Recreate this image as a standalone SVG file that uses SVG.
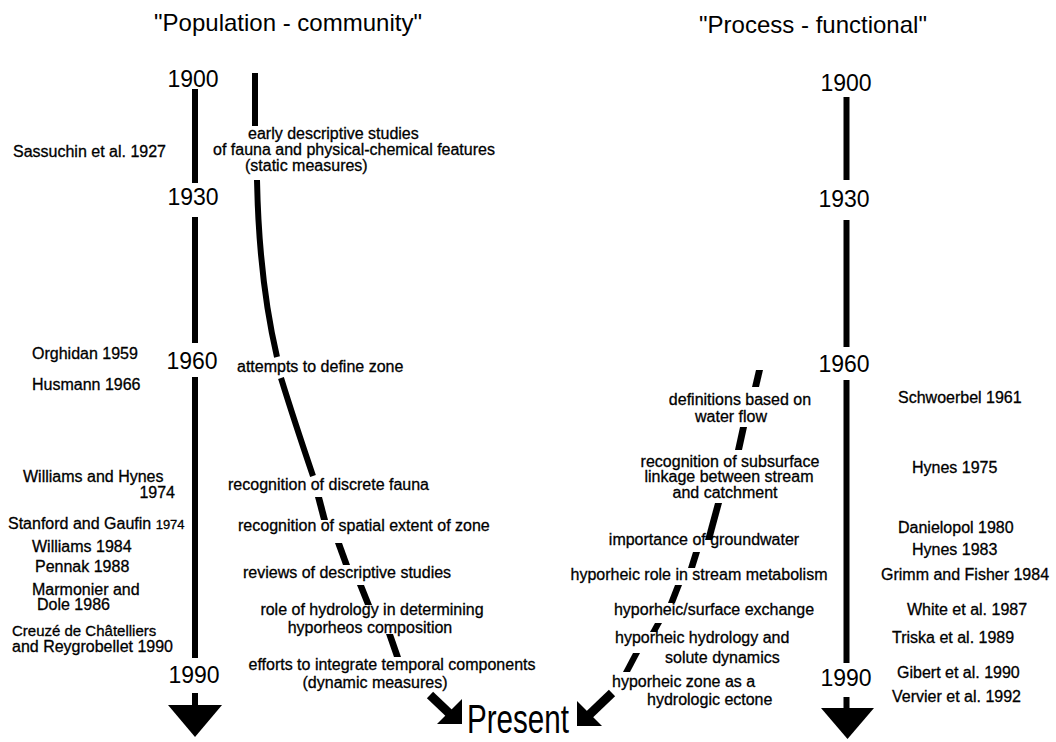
<svg xmlns="http://www.w3.org/2000/svg" width="1056" height="742" viewBox="0 0 1056 742">
<style>
text{font-family:"Liberation Sans",Arial,sans-serif;fill:#000}
.title{font-size:24px}
.year{font-size:23px}
.t{font-size:16px;stroke:#000;stroke-width:0.3}
.axis{stroke:#000;stroke-width:6;fill:none}
.curve{stroke:#000;stroke-width:6;fill:none}
.seg{fill:#000}
</style>
<rect width="1056" height="742" fill="#fff"/>
<g id="titles">
<text class="title" x="288" y="31" text-anchor="middle">"Population - community"</text>
<text class="title" x="813" y="33" text-anchor="middle">"Process - functional"</text>
</g>
<g id="left-timeline">
<text class="year" x="193" y="87" text-anchor="middle">1900</text>
<text class="year" x="193" y="205" text-anchor="middle">1930</text>
<text class="year" x="192" y="369" text-anchor="middle">1960</text>
<text class="year" x="194" y="683" text-anchor="middle">1990</text>
</g>
<g id="right-timeline">
<text class="year" x="846" y="91" text-anchor="middle">1900</text>
<text class="year" x="844" y="207" text-anchor="middle">1930</text>
<text class="year" x="844" y="372" text-anchor="middle">1960</text>
<text class="year" x="846" y="686" text-anchor="middle">1990</text>
</g>
<g id="left-references">
<text class="t" x="13" y="157">Sassuchin et al. 1927</text>
<text class="t" x="32" y="359">Orghidan 1959</text>
<text class="t" x="32" y="390">Husmann 1966</text>
<text class="t" x="23" y="482">Williams and Hynes</text>
<text class="t" x="175" y="498" text-anchor="end">1974</text>
<text class="t" x="8" y="529">Stanford and Gaufin <tspan style="font-size:13px">1974</tspan></text>
<text class="t" x="32" y="552">Williams 1984</text>
<text class="t" x="35" y="572">Pennak 1988</text>
<text class="t" x="32" y="595">Marmonier and</text>
<text class="t" x="37" y="610">Dole 1986</text>
<text class="t" x="12" y="636" style="font-size:15px">Creuzé de Châtelliers</text>
<text class="t" x="12" y="652">and Reygrobellet 1990</text>
</g>
<g id="left-stages">
<text class="t" x="248" y="139">early descriptive studies</text>
<text class="t" x="213" y="155">of fauna and physical-chemical features</text>
<text class="t" x="245" y="171">(static measures)</text>
<text class="t" x="237" y="372">attempts to define zone</text>
<text class="t" x="228" y="490">recognition of discrete fauna</text>
<text class="t" x="238" y="531">recognition of spatial extent of zone</text>
<text class="t" x="243" y="578">reviews of descriptive studies</text>
<text class="t" x="372" y="615" text-anchor="middle">role of hydrology in determining</text>
<text class="t" x="370" y="633" text-anchor="middle">hyporheos composition</text>
<text class="t" x="392" y="670" text-anchor="middle">efforts to integrate temporal components</text>
<text class="t" x="375" y="688" text-anchor="middle">(dynamic measures)</text>
</g>
<g id="right-stages">
<text class="t" x="740" y="405" text-anchor="middle">definitions based on</text>
<text class="t" x="731" y="422" text-anchor="middle">water flow</text>
<text class="t" x="730" y="467" text-anchor="middle">recognition of subsurface</text>
<text class="t" x="729" y="482" text-anchor="middle">linkage between stream</text>
<text class="t" x="725" y="498" text-anchor="middle">and catchment</text>
<text class="t" x="704" y="545" text-anchor="middle">importance of groundwater</text>
<text class="t" x="699" y="580" text-anchor="middle">hyporheic role in stream metabolism</text>
<text class="t" x="714" y="615" text-anchor="middle">hyporheic/surface exchange</text>
<text class="t" x="615" y="643">hyporheic hydrology and</text>
<text class="t" x="665" y="663">solute dynamics</text>
<text class="t" x="612" y="687">hyporheic zone as a</text>
<text class="t" x="647" y="705">hydrologic ectone</text>
</g>
<g id="right-references">
<text class="t" x="898" y="403">Schwoerbel 1961</text>
<text class="t" x="912" y="473">Hynes 1975</text>
<text class="t" x="898" y="533">Danielopol 1980</text>
<text class="t" x="912" y="555">Hynes 1983</text>
<text class="t" x="881" y="580">Grimm and Fisher 1984</text>
<text class="t" x="907" y="615">White et al. 1987</text>
<text class="t" x="892" y="643">Triska et al. 1989</text>
<text class="t" x="897" y="678">Gibert et al. 1990</text>
<text class="t" x="892" y="702">Vervier et al. 1992</text>
</g>
<g id="present">
<text x="467" y="733" style="font-size:40px" textLength="102" lengthAdjust="spacingAndGlyphs">Present</text>
</g>
<g id="connectors">
<path class="axis" d="M195,89V183M195,217V343M195,377V658M195,693V706"/>
<polygon points="168,705 222,705 195,737"/>
<path class="axis" d="M846.5,97V180M846.5,220V347M846.5,380V663M846.5,697V709"/>
<polygon points="821,708 874,708 847.5,739"/>
<path class="curve" d="M255,73V126"/>
<path class="curve" d="M257,180Q259,280 277,357"/>
<path class="curve" d="M281,378Q294,420 313,476"/>
<polygon class="seg" points="315,497 322,497 328,520 321,520"/>
<polygon class="seg" points="335,543 342,543 350,565 343,565"/>
<polygon class="seg" points="357,585 364,585 372,605 365,605"/>
<polygon class="seg" points="386,634 393,634 401,657 394,657"/>
<path d="M430,695L450,714" stroke="#000" stroke-width="9"/>
<polygon points="462,724 462,699 437,724"/>
<polygon class="seg" points="756,370 763,370 759,387 752,387"/>
<polygon class="seg" points="740,427 747,427 742,450 735,450"/>
<polygon class="seg" points="715,503 722,503 712,540 705,540"/>
<polygon class="seg" points="693,552 700,552 695,568 688,568"/>
<polygon class="seg" points="675,585 682,585 675,603 668,603"/>
<polygon class="seg" points="655,623 662,623 657,632 650,632"/>
<polygon class="seg" points="633,653 640,653 630,672 623,672"/>
<path d="M612,693L589,715" stroke="#000" stroke-width="9"/>
<polygon points="577,726 577,701 602,726"/>
</g>
</svg>
